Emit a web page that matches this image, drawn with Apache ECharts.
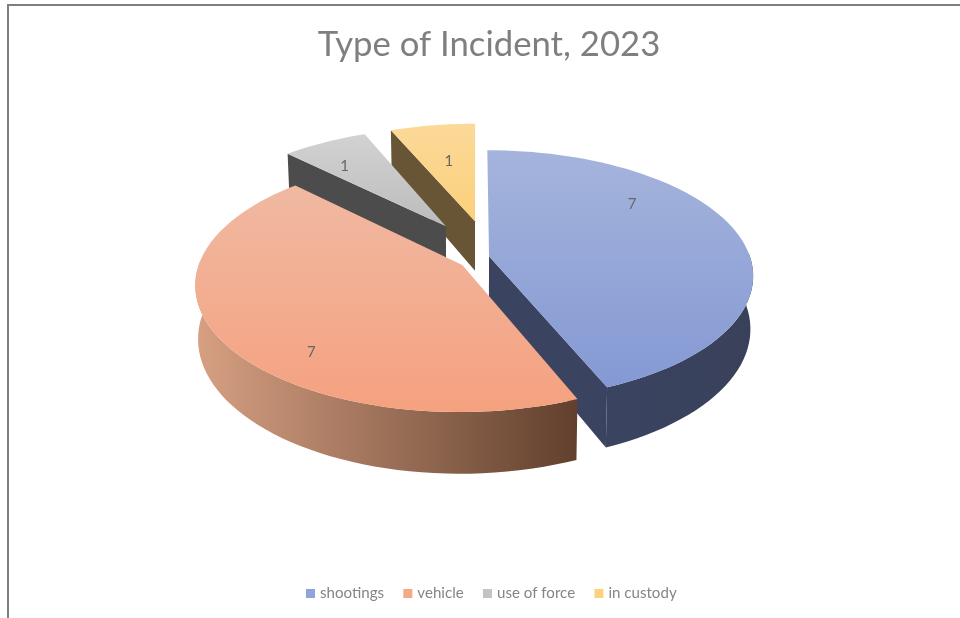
<!DOCTYPE html>
<html>
<head>
<meta charset="utf-8">
<style>html,body{margin:0;padding:0;background:#fff}#chart{width:960px;height:618px}</style>
<script src="https://cdn.jsdelivr.net/npm/echarts@6/dist/echarts.min.js"></script>
</head>
<body>
<div id="chart"></div>
<script>
// Incident counts by type
const categories = ['shootings', 'vehicle', 'use of force', 'in custody'];
const incidents = [7, 7, 1, 1];

// Legend swatches
const swatches = ['#8fa5da', '#f4a987', '#c4c4c4', '#fdd27f'];

// Surface shading per slice: top gradient, then wall gradient (left to right)
const topShades = [
  ['#a5b4dc', '#8499d4'],
  ['#f0b9a2', '#f5a17f'],
  ['#d2d2d2', '#bcbcbc'],
  ['#fcd999', '#fad07a']
];
const wallShades = [
  ['#3a4360', '#39415a'],
  ['#d7a083', '#61402d'],
  ['#4c4c4c', '#4c4c4c'],
  ['#675535', '#675535']
];

// Explosion offset of each slice on the pie's plane, and where its value label sits
const sliceShift = [[0.05, -0.03], [-0.052, 0.04], [-0.12, -0.285], [-0.004, -0.33]];
const labelSpot = [[0.64, -0.49], [-0.565, 0.67], [-0.567, -0.86], [-0.118, -0.91]];

// Paint order, back to front
const stacking = [3, 4, 2, 1];

// Pie projection: a disc seen in perspective, extruded downward
const centerX = 476, centerY = 260, radius = 262, flatten = 0.47, viewer = 6.6, thickness = 52, taper = 0.99;
const total = incidents.reduce((a, b) => a + b, 0);

function project(u, v, drop) {
  const s = viewer / (viewer - v);
  const k = drop ? taper : 1;
  return [
    centerX + radius * u * s * k,
    centerY + radius * flatten * v * s + (drop ? thickness * s : 0)
  ];
}

function vertical(pair) {
  return new echarts.graphic.LinearGradient(0, 0, 0, 1, [
    { offset: 0, color: pair[0] }, { offset: 1, color: pair[1] }
  ]);
}
function horizontal(pair) {
  return new echarts.graphic.LinearGradient(0, 0, 1, 0, [
    { offset: 0, color: pair[0] }, { offset: 1, color: pair[1] }
  ]);
}

function drawSlice(index, api) {
  const value = api.value(0);
  const before = incidents.slice(0, index).reduce((a, b) => a + b, 0);
  const from = before / total * Math.PI * 2;
  const to = (before + value) / total * Math.PI * 2;
  const [du, dv] = sliceShift[index];
  const rimTop = [], frontTop = [], frontBottom = [];
  const steps = Math.max(6, Math.ceil((to - from) / 0.04));
  for (let i = 0; i <= steps; i++) {
    const a = from + (to - from) * i / steps;
    const u = du + Math.sin(a), v = dv - Math.cos(a);
    rimTop.push(project(u, v, false));
    // Only the front half of the rim shows a wall
    if (Math.cos(a) < 0.03) {
      frontTop.push(project(u, v, false));
      frontBottom.push(project(u, v, true));
    }
  }
  const apexTop = project(du, dv, false);
  const apexBottom = project(du, dv, true);
  const children = [];

  // Cut faces are drawn only when they turn toward the viewer
  const cutFace = (angle) => ({
    type: 'polygon',
    shape: {
      points: [
        apexTop,
        project(du + Math.sin(angle), dv - Math.cos(angle), false),
        project(du + Math.sin(angle), dv - Math.cos(angle), true),
        apexBottom
      ]
    },
    style: { fill: wallShades[index][0] }
  });
  if (-Math.sin(from) > 1e-6) children.push(cutFace(from));
  if (Math.sin(to) > 1e-6) children.push(cutFace(to));

  if (frontTop.length > 1) {
    children.push({
      type: 'polygon',
      shape: { points: frontTop.concat(frontBottom.slice().reverse()) },
      style: { fill: horizontal(wallShades[index]) }
    });
  }
  children.push({
    type: 'polygon',
    shape: { points: [apexTop].concat(rimTop) },
    style: { fill: vertical(topShades[index]) }
  });
  const spot = project(labelSpot[index][0], labelSpot[index][1], false);
  children.push({
    type: 'text',
    style: {
      text: String(value), x: spot[0], y: spot[1],
      fill: '#666666', font: '15px Lato', align: 'center', verticalAlign: 'middle'
    }
  });
  return { type: 'group', children: children };
}

const chart = echarts.init(document.getElementById('chart'), null, { renderer: 'canvas' });
chart.setOption({
  animation: false,
  backgroundColor: '#ffffff',
  title: {
    text: 'Type of Incident, 2023',
    left: 484, top: 22, textAlign: 'center',
    textStyle: { fontFamily: 'Lato', fontSize: 34.7, fontWeight: 'normal', color: '#7f7f7f' }
  },
  legend: {
    data: categories,
    left: 301, top: 581,
    itemWidth: 9, itemHeight: 9, itemGap: 19.3,
    icon: 'rect', selectedMode: false,
    textStyle: { fontFamily: 'Lato', fontSize: 15.1, color: '#858585' }
  },
  graphic: [
    { type: 'rect', shape: { x: 7, y: 4, width: 953, height: 2 }, style: { fill: '#7f7f7f' }, silent: true },
    { type: 'rect', shape: { x: 7, y: 4, width: 2, height: 614 }, style: { fill: '#7f7f7f' }, silent: true }
  ],
  series: categories.map((name, index) => ({
    type: 'custom',
    name: name,
    coordinateSystem: 'none',
    silent: true,
    z: stacking[index],
    itemStyle: { color: swatches[index] },
    data: [incidents[index]],
    renderItem: (params, api) => drawSlice(index, api)
  }))
});
</script>
</body>
</html>
